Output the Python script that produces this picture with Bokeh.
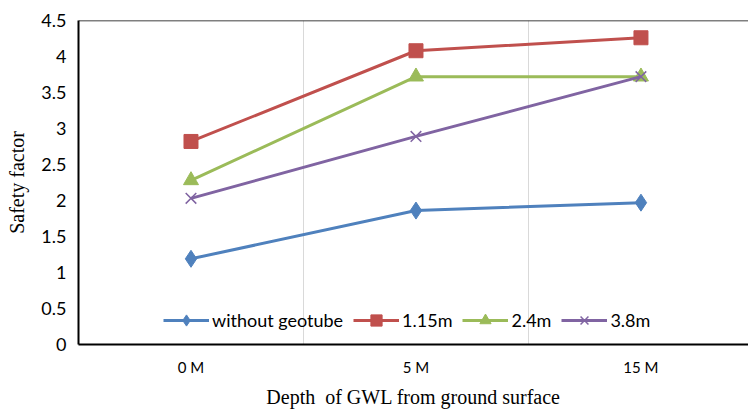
from bokeh.plotting import figure
from bokeh.models import Range1d, FixedTicker, Span, Legend, LegendItem
from bokeh.embed import file_html
from bokeh.resources import INLINE

categories = ["0 M", "5 M", "15 M"]
without_geotube = [1.19, 1.86, 1.97]
g_115 = [2.82, 4.08, 4.26]
g_24 = [2.28, 3.72, 3.72]
g_38 = [2.03, 2.89, 3.72]
y_ticks = [0, 0.5, 1, 1.5, 2, 2.5, 3, 3.5, 4, 4.5]
y_tick_labels = ["0", "0.5", "1", "1.5", "2", "2.5", "3", "3.5", "4", "4.5"]

xs = list(range(len(categories)))

p = figure(width=748, height=410, output_backend="svg", toolbar_location=None,
           x_range=Range1d(-0.5, 2.478), y_range=Range1d(0, 4.5),
           min_border_left=78, min_border_right=0, min_border_top=20, min_border_bottom=66)
p.outline_line_color = None
p.background_fill_color = "white"
p.border_fill_color = "white"

p.xaxis.ticker = FixedTicker(ticks=xs)
p.xaxis.major_label_overrides = {i: c for i, c in enumerate(categories)}
p.yaxis.ticker = FixedTicker(ticks=y_ticks)
p.yaxis.major_label_overrides = {t: l for t, l in zip(y_ticks, y_tick_labels)}
for ax in (p.xaxis, p.yaxis):
    ax.axis_line_color = "black"
    ax.axis_line_width = 2
    ax.major_tick_line_color = None
    ax.minor_tick_line_color = None
    ax.major_tick_out = 0
    ax.major_tick_in = 0
    ax.minor_tick_out = 0
    ax.minor_tick_in = 0
    ax.major_label_text_font = "Lato"
    ax.major_label_text_color = "black"
    ax.axis_label_text_font = "Liberation Serif"
    ax.axis_label_text_font_style = "normal"
    ax.axis_label_text_color = "black"
    ax.axis_label_text_font_size = "20px"
p.yaxis.major_label_text_font_size = "18px"
p.xaxis.major_label_text_font_size = "15px"
p.xaxis.major_label_standoff = 13
p.yaxis.major_label_standoff = 12
p.xaxis.axis_label = "Depth\u00a0 of GWL from ground surface"
p.yaxis.axis_label = "Safety factor"
p.xaxis.axis_label_standoff = 7
p.yaxis.axis_label_standoff = 10

p.xgrid.ticker = FixedTicker(ticks=[0.5, 1.5])
p.xgrid.grid_line_color = "#d9d9d9"
p.ygrid.grid_line_color = None

top = Span(location=4.5, dimension="width", line_color="black", line_width=1.5)
p.add_layout(top)

series = [
    ("without geotube", without_geotube, "#4F81BD", "diamond", 17),
    ("1.15m", g_115, "#C0504D", "square", 14),
    ("2.4m", g_24, "#9BBB59", "triangle", 15),
    ("3.8m", g_38, "#8064A2", "x", 15),
]
items = []
for name, vals, col, mk, sz in series:
    l = p.line(xs, vals, line_color=col, line_width=3)
    if mk == "x":
        s = p.scatter(xs, vals, marker=mk, size=sz, line_color=col, line_width=1.5)
    else:
        s = p.scatter(xs, vals, marker=mk, size=sz, fill_color=col, line_color=col)
    items.append(LegendItem(label=name, renderers=[l, s]))

legend = Legend(items=items, orientation="horizontal", location=(85, 10),
                glyph_width=46, glyph_height=28, label_text_font="Lato",
                label_text_font_size="18px", label_text_color="black",
                spacing=10, padding=0, margin=0, label_standoff=3,
                background_fill_alpha=0, border_line_color=None)
p.add_layout(legend, "center")

open("out.html", "w").write(file_html(p, INLINE))
